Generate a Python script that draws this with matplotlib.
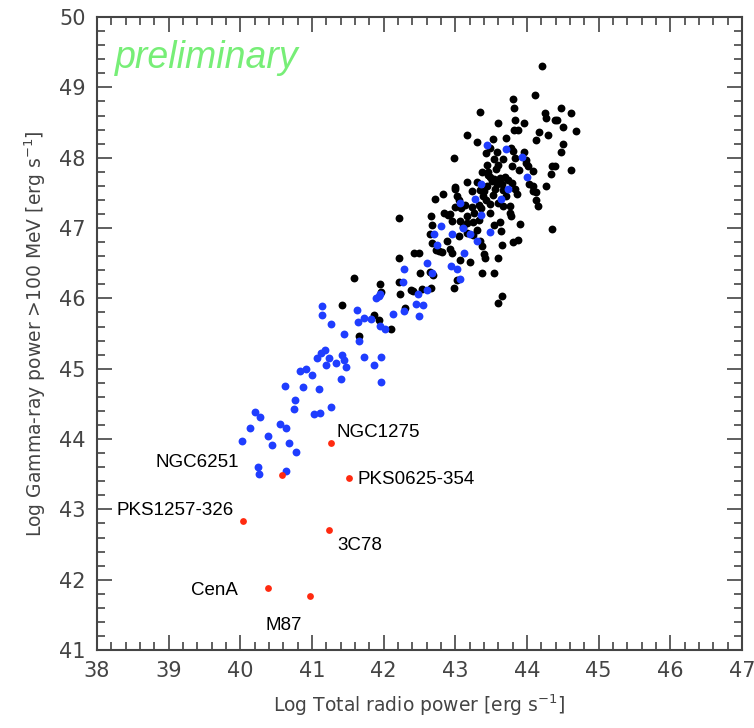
import numpy as np
import matplotlib
matplotlib.use("Agg")
import matplotlib.pyplot as plt
from matplotlib.ticker import MultipleLocator

# black: blazars (log radio power, log gamma power)
black_x = [44.21, 44.11, 43.81, 43.82, 43.35, 44.48, 44.61, 44.25, 44.26, 43.60,
           43.84, 43.96, 44.39, 44.42, 43.82, 43.87, 44.51, 44.69, 44.17, 44.29,
           43.16, 44.13, 43.30, 43.53, 43.71, 44.51, 43.49, 43.58, 43.78, 43.80,
           43.96, 44.48, 42.98, 43.43, 43.54, 43.67, 43.83, 43.99, 43.98, 43.59,
           43.79, 44.01, 43.44, 44.35, 44.39, 44.61, 44.08, 43.89, 43.37, 43.46,
           44.33, 43.16, 43.30, 43.48, 43.54, 43.62, 43.69, 43.74, 43.58, 43.65,
           43.55, 43.66, 43.79, 43.83, 43.86, 44.03, 44.09, 44.26, 42.99, 42.99,
           43.23, 43.34, 43.40, 44.08, 44.13, 42.83, 42.72, 43.03, 43.05, 43.43,
           43.49, 43.33, 43.36, 43.66, 43.77, 44.13, 44.15, 42.99, 43.08, 43.13,
           42.84, 42.92, 42.90, 43.23, 43.26, 43.16, 43.76, 43.78, 43.48, 42.66,
           42.21, 43.06, 42.95, 42.68, 43.16, 43.11, 43.63, 43.54, 43.90, 44.35,
           43.31, 43.17, 43.25, 43.64, 42.65, 42.67, 42.89, 43.05, 43.34, 43.37,
           43.65, 43.80, 43.87, 42.93, 42.95, 42.77, 42.82, 42.73, 42.43, 42.50,
           43.40, 43.42, 43.06, 42.21, 43.20, 43.59, 42.69, 42.65, 42.51, 42.22,
           43.37, 43.54, 43.02, 42.98, 42.38, 42.41, 42.53, 42.66, 42.23, 41.95,
           41.97, 43.65, 43.60, 42.30, 41.59, 41.42, 41.86, 41.94, 42.10, 41.66,
           43.46, 43.51, 43.25, 43.38, 43.44, 43.57, 43.71, 43.52, 43.60, 43.33]
black_y = [49.30, 48.89, 48.84, 48.71, 48.65, 48.70, 48.63, 48.63, 48.57, 48.49,
           48.53, 48.50, 48.53, 48.53, 48.40, 48.40, 48.43, 48.38, 48.36, 48.32,
           48.32, 48.25, 48.22, 48.27, 48.28, 48.20, 48.14, 48.08, 48.14, 48.10,
           48.08, 48.08, 48.00, 48.06, 47.98, 47.98, 48.00, 47.97, 47.92, 47.90,
           47.88, 47.88, 47.89, 47.88, 47.88, 47.83, 47.81, 47.82, 47.79, 47.80,
           47.77, 47.66, 47.66, 47.72, 47.70, 47.71, 47.72, 47.68, 47.63, 47.63,
           47.56, 47.54, 47.64, 47.56, 47.49, 47.63, 47.60, 47.60, 47.55, 47.58,
           47.53, 47.54, 47.53, 47.52, 47.51, 47.48, 47.41, 47.45, 47.40, 47.40,
           47.34, 47.33, 47.28, 47.32, 47.32, 47.40, 47.32, 47.30, 47.28, 47.33,
           47.22, 47.20, 47.18, 47.30, 47.21, 47.17, 47.21, 47.17, 47.21, 47.17,
           47.14, 47.10, 47.10, 47.05, 47.07, 47.02, 47.08, 47.04, 47.06, 46.99,
           46.97, 46.93, 46.90, 46.96, 46.91, 46.79, 46.82, 46.88, 46.82, 46.74,
           46.76, 46.80, 46.83, 46.70, 46.65, 46.68, 46.66, 46.69, 46.64, 46.64,
           46.63, 46.58, 46.55, 46.58, 46.52, 46.57, 46.33, 46.37, 46.36, 46.23,
           46.36, 46.36, 46.26, 46.15, 46.12, 46.10, 46.14, 46.15, 46.06, 46.21,
           46.09, 46.03, 45.94, 45.86, 46.29, 45.90, 45.77, 45.70, 45.56, 45.47,
           47.75, 47.67, 47.08, 47.45, 47.60, 47.84, 47.45, 47.47, 47.36, 47.12]

# blue: second population
blue_x = [43.44, 43.71, 43.93, 44.00, 43.36, 43.74, 43.27, 43.64, 43.06, 43.36,
          42.80, 43.11, 42.71, 42.96, 43.20, 43.48, 43.30, 42.74, 43.12, 42.60,
          42.94, 43.02, 42.28, 42.67, 43.06, 42.27, 42.60, 42.48, 41.95, 42.45,
          42.55, 42.13, 42.29, 42.49, 41.89, 41.93, 41.14, 41.14, 41.63, 41.73,
          41.82, 41.64, 41.26, 41.95, 42.02, 41.45, 41.65, 41.12, 41.18, 41.24,
          41.07, 41.20, 41.33, 41.42, 41.45, 41.47, 41.72, 41.96, 41.87, 41.96,
          40.83, 40.92, 41.00, 41.41, 40.63, 40.88, 41.10, 40.76, 40.75, 41.26,
          41.03, 41.11, 40.20, 40.28, 40.55, 40.64, 40.13, 40.38, 40.44, 40.68,
          40.78, 40.03, 40.25, 40.26, 40.64]
blue_y = [48.18, 48.13, 48.01, 47.73, 47.62, 47.56, 47.41, 47.41, 47.35, 47.19,
          47.03, 47.00, 46.91, 46.92, 46.91, 46.94, 46.82, 46.76, 46.64, 46.50,
          46.46, 46.42, 46.42, 46.36, 46.27, 46.23, 46.12, 46.06, 46.06, 45.92,
          45.90, 45.78, 45.82, 45.75, 46.01, 46.04, 45.89, 45.76, 45.84, 45.72,
          45.71, 45.67, 45.64, 45.61, 45.57, 45.50, 45.40, 45.23, 45.26, 45.15,
          45.15, 45.05, 45.08, 45.19, 45.12, 45.03, 45.17, 45.16, 45.05, 44.81,
          44.97, 45.00, 44.91, 44.85, 44.76, 44.74, 44.71, 44.56, 44.43, 44.45,
          44.35, 44.37, 44.39, 44.31, 44.22, 44.16, 44.16, 44.04, 43.92, 43.95,
          43.82, 43.97, 43.60, 43.51, 43.54]

# red: radio galaxies
red_names = ["NGC1275", "NGC6251", "PKS0625-354", "PKS1257-326", "3C78", "CenA", "M87"]
red_x = [41.27, 40.58, 41.52, 40.04, 41.24, 40.39, 40.97]
red_y = [43.95, 43.49, 43.45, 42.84, 42.71, 41.89, 41.77]

# label offsets in points and alignment
label_offsets = {"NGC1275": (4, 7, "left"), "NGC6251": (-31, 9, "right"),
                 "PKS0625-354": (6, -1, "left"), "PKS1257-326": (-7, 7, "right"),
                 "3C78": (6, -11, "left"), "CenA": (-22, -2, "right"),
                 "M87": (-32, -21, "left")}

fig = plt.figure(figsize=(7.54, 7.28), dpi=100)
ax = fig.add_axes([0.1286, 0.107, 0.8554, 0.8696])

ax.scatter(black_x, black_y, s=32, color="black", linewidths=0, zorder=3)
ax.scatter(blue_x, blue_y, s=32, color="#1f3dff", linewidths=0, zorder=4)
ax.scatter(red_x, red_y, s=24, color="#ff2a10", linewidths=0, zorder=5)

for name, x, y in zip(red_names, red_x, red_y):
    dx, dy, ha = label_offsets[name]
    ax.annotate(name, (x, y), xytext=(dx, dy), textcoords="offset points",
                ha=ha, va="center", fontsize=13.5, family="Liberation Sans")

ax.text(38.25, 49.42, "preliminary", color="#77ee77", fontsize=27,
        style="italic", family="Liberation Sans", va="center")

ax.set_xlim(38, 47)
ax.set_ylim(41, 50)
ax.xaxis.set_major_locator(MultipleLocator(1))
ax.yaxis.set_major_locator(MultipleLocator(1))
ax.xaxis.set_minor_locator(MultipleLocator(0.2))
ax.yaxis.set_minor_locator(MultipleLocator(0.2))
ax.tick_params(which="both", direction="in", top=True, right=True,
               color="#444444", width=1.2)
ax.tick_params(which="major", length=11, labelsize=15, labelcolor="#444444", pad=8)
ax.tick_params(which="minor", length=6)
for sp in ax.spines.values():
    sp.set_color("#444444")
    sp.set_linewidth(1.5)

ax.set_xlabel(r"Log Total radio power [erg s$^{-1}$]", fontsize=13.5,
              color="#444444", labelpad=8)
ax.set_ylabel(r"Log Gamma-ray power >100 MeV [erg s$^{-1}$]", fontsize=13.5,
              color="#444444", labelpad=8)

fig.savefig("out.png", dpi=100)
